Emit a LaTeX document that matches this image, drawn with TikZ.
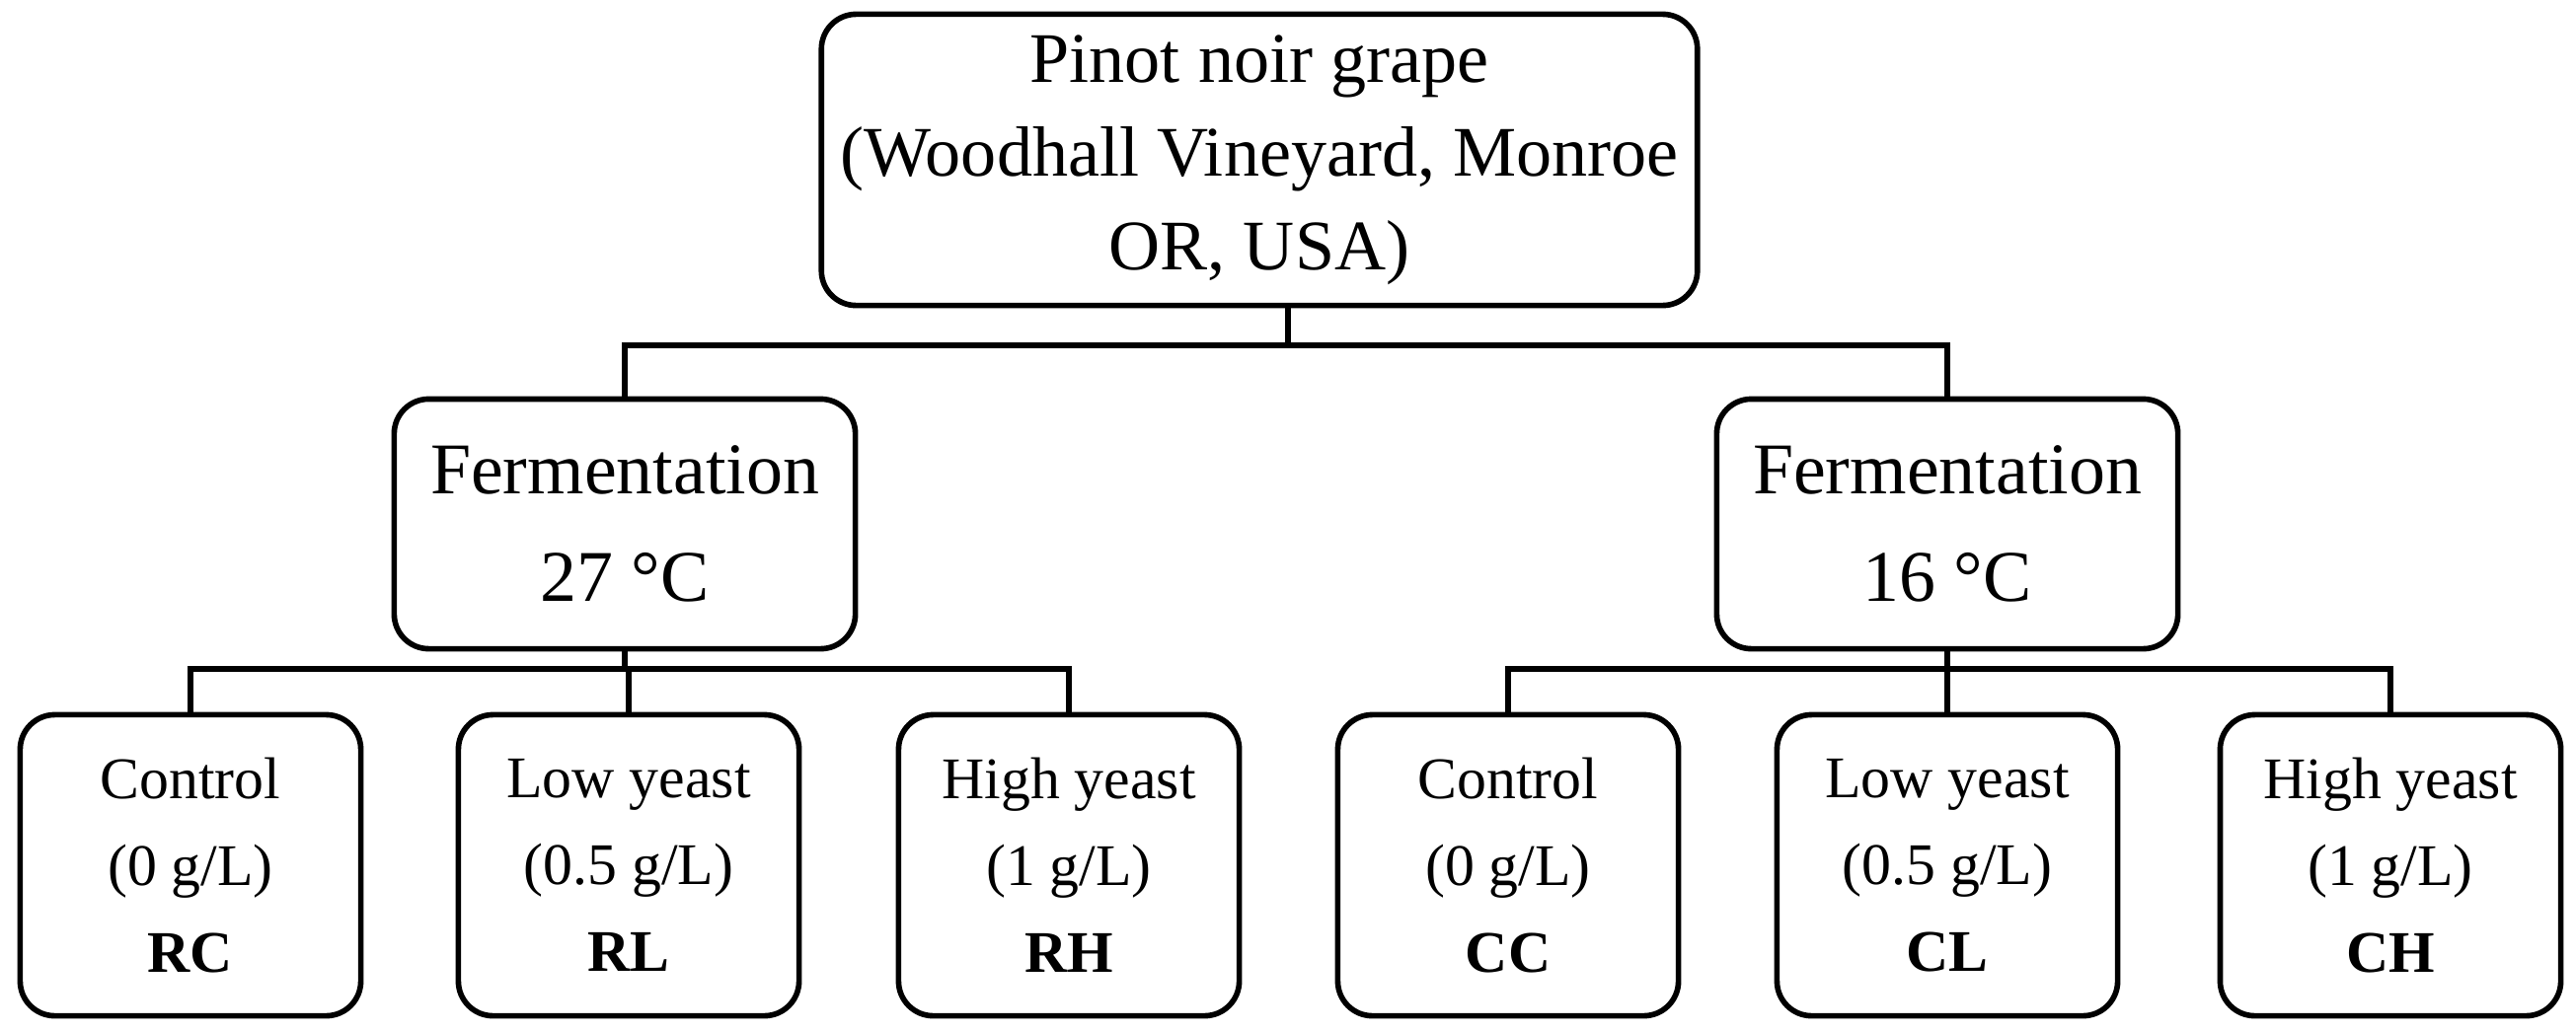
\documentclass[tikz,border=0pt]{standalone}
\usepackage{fontspec}
\setmainfont{Liberation Serif}
\begin{document}
\begin{tikzpicture}[x=0.01cm,y=-0.01cm,
 box/.style={draw,line width=1.6pt,rounded corners=10pt,align=center,inner sep=0pt},
 ln/.style={line width=1.6pt}]
\useasboundingbox (0,0) rectangle (2610,1045);
\node[box,minimum width=8.87cm,minimum height=2.95cm,font=\fontsize{20.5}{27}\selectfont] (top) at (1276,162) {Pinot noir grape\\(Woodhall Vineyard, Monroe\\OR, USA)};
\node[box,minimum width=4.67cm,minimum height=2.53cm,font=\fontsize{21}{31}\selectfont] (m1) at (633,531) {Fermentation\\27 °C};
\node[box,minimum width=4.67cm,minimum height=2.53cm,font=\fontsize{21}{31}\selectfont] (m2) at (1973,531) {Fermentation\\16 °C};
\tikzset{leaf/.style={box,minimum width=3.45cm,minimum height=3.05cm,font=\fontsize{17}{25}\selectfont}}
\node[leaf] (b1) at (193,877) {Control\\(0 g/L)\\\textbf{RC}};
\node[leaf] (b2) at (637,877) {Low yeast\\(0.5 g/L)\\\textbf{RL}};
\node[leaf] (b3) at (1083,877) {High yeast\\(1 g/L)\\\textbf{RH}};
\node[leaf] (b4) at (1528,877) {Control\\(0 g/L)\\\textbf{CC}};
\node[leaf] (b5) at (1973,877) {Low yeast\\(0.5 g/L)\\\textbf{CL}};
\node[leaf] (b6) at (2422,877) {High yeast\\(1 g/L)\\\textbf{CH}};
\coordinate (j0) at (1305,350);
\draw[ln] (top.south -| j0) -- (j0);
\draw[ln] (m1.north) |- (j0) -| (m2.north);
\coordinate (j1) at (633,678);
\coordinate (j2) at (1973,678);
\draw[ln] (m1.south) -- (j1);
\draw[ln] (m2.south) -- (j2);
\draw[ln] (b1.north) |- (j1) -| (b3.north);
\draw[ln] (b2.north |- j1) -- (b2.north);
\draw[ln] (b4.north) |- (j2) -| (b6.north);
\draw[ln] (b5.north) -- (j2);
\end{tikzpicture}
\end{document}
